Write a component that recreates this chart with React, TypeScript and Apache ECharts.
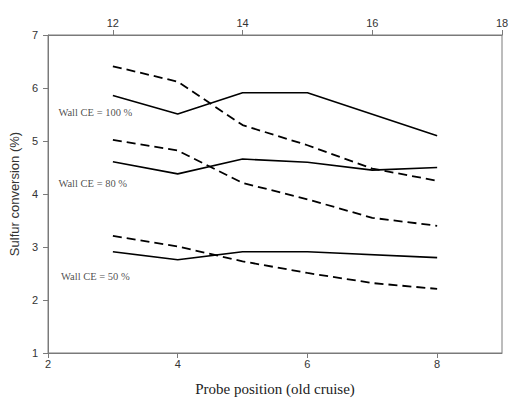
import React, { useEffect, useRef } from "react";
import * as echarts from "echarts";

// Probe positions (bottom axis) shared by all curves
const positions = [3, 4, 5, 6, 7, 8];

// Solid curves (probe positions without position 7 where no sample exists)
const solidPositions100 = [3, 4, 5, 6, 8];
const solid100 = [5.86, 5.51, 5.91, 5.91, 5.1];
const solid80 = [4.61, 4.38, 4.66, 4.6, 4.45, 4.5];
const solidPositions50 = [3, 4, 5, 6, 8];
const solid50 = [2.91, 2.76, 2.91, 2.91, 2.8];

// Dashed curves
const dashed100 = [6.41, 6.12, 5.3, 4.92, 4.48, 4.25];
const dashed80 = [5.02, 4.82, 4.21, 3.9, 3.55, 3.4];
const dashed50 = [3.21, 3.01, 2.73, 2.51, 2.32, 2.21];

// Wall collection-efficiency annotations (data coordinates)
const noteText = ["Wall CE = 100 %", "Wall CE = 80 %", "Wall CE = 50 %"];
const noteX = [2.16, 2.16, 2.2];
const noteY = [5.53, 4.19, 2.44];

// Tick labels
const bottomTicks = [2, 4, 6, 8];
const topTicks = [12, 14, 16, 18];
const leftTicks = [1, 2, 3, 4, 5, 6, 7];

const pairs = (xs: number[], ys: number[]) => ys.map((y, i) => [xs[i], y]);

export default function App() {
  const ref = useRef<HTMLDivElement>(null);

  useEffect(() => {
    document.body.style.margin = "0";
    if (!ref.current) return;
    const chart = echarts.init(ref.current, undefined, { renderer: "svg" });

    const axisGray = "#7a7a7a";
    const labelColor = "#333";
    const sans = "Liberation Sans";
    const serif = "Liberation Serif";

    const solid = (data: number[][]) => ({
      type: "line",
      data,
      symbol: "none",
      xAxisIndex: 0,
      lineStyle: { color: "#000", width: 1.6, type: "solid" },
      z: 3,
    });
    const dashed = (data: number[][]) => ({
      type: "line",
      data,
      symbol: "none",
      xAxisIndex: 0,
      lineStyle: { color: "#000", width: 1.8, type: [9, 5] },
      z: 3,
    });

    chart.setOption({
      animation: false,
      backgroundColor: "#fff",
      textStyle: { fontFamily: sans },
      grid: {
        left: 47,
        right: 12,
        top: 35,
        bottom: 52,
        show: true,
        borderColor: axisGray,
        borderWidth: 1,
      },
      xAxis: [
        {
          type: "value",
          position: "bottom",
          min: 2,
          max: 9,
          splitLine: { show: false },
          axisLine: { show: true, lineStyle: { color: axisGray } },
          axisTick: {
            show: true,
            length: 5,
            customValues: bottomTicks,
            lineStyle: { color: axisGray },
          },
          axisLabel: {
            customValues: bottomTicks,
            color: labelColor,
            fontFamily: sans,
            fontSize: 11,
            margin: 5,
          },
          name: "Probe position (old cruise)",
          nameLocation: "middle",
          nameGap: 28,
          nameTextStyle: { color: "#222", fontFamily: serif, fontSize: 15 },
        },
        {
          type: "value",
          position: "top",
          min: 11,
          max: 18,
          splitLine: { show: false },
          axisLine: { show: true, lineStyle: { color: axisGray } },
          axisTick: {
            show: true,
            length: 5,
            customValues: topTicks,
            lineStyle: { color: axisGray },
          },
          axisLabel: {
            customValues: topTicks,
            color: labelColor,
            fontFamily: sans,
            fontSize: 11,
            margin: 7,
          },
        },
      ],
      yAxis: {
        type: "value",
        min: 1,
        max: 7,
        interval: 1,
        splitLine: { show: false },
        axisLine: { show: true, lineStyle: { color: axisGray } },
        axisTick: { show: true, length: 5, lineStyle: { color: axisGray } },
        axisLabel: {
          color: labelColor,
          fontFamily: sans,
          fontSize: 11,
          margin: 10,
          formatter: (v: number) => (leftTicks.includes(v) ? String(v) : ""),
        },
        name: "Sulfur conversion (%)",
        nameLocation: "middle",
        nameGap: 22,
        nameTextStyle: { color: labelColor, fontFamily: sans, fontSize: 13 },
      },
      series: [
        solid(pairs(solidPositions100, solid100)),
        solid(pairs(positions, solid80)),
        solid(pairs(solidPositions50, solid50)),
        dashed(pairs(positions, dashed100)),
        dashed(pairs(positions, dashed80)),
        dashed(pairs(positions, dashed50)),
        {
          type: "scatter",
          xAxisIndex: 0,
          symbolSize: 0,
          silent: true,
          data: noteText.map((t, i) => ({ name: t, value: [noteX[i], noteY[i]] })),
          label: {
            show: true,
            position: "right",
            distance: 0,
            formatter: (p: any) => p.name,
            color: "#222",
            fontFamily: serif,
            fontSize: 10.5,
          },
          z: 4,
        },
      ],
    });

    return () => chart.dispose();
  }, []);

  return <div ref={ref} style={{ width: 514, height: 405 }} />;
}
